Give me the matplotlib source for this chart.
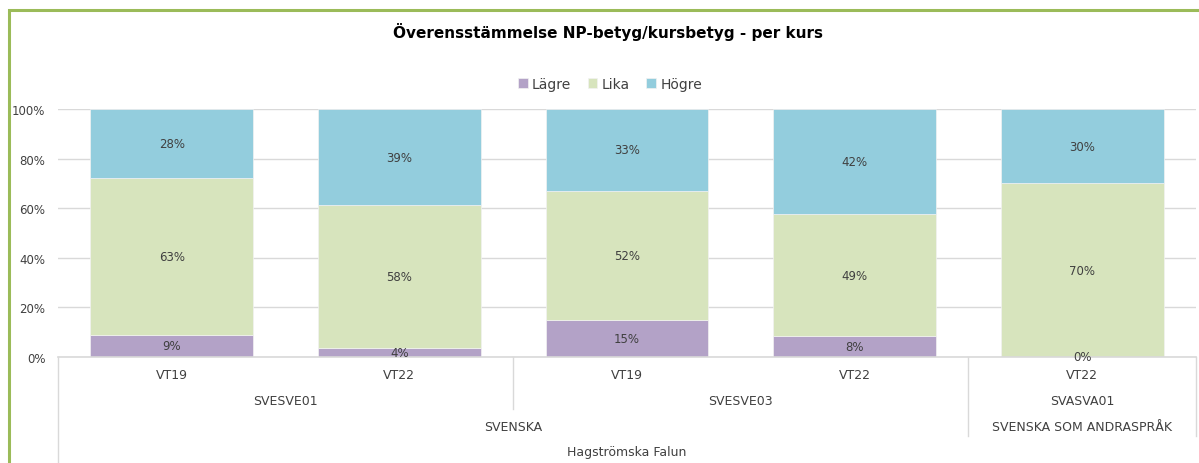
import matplotlib
matplotlib.use("Agg")
import matplotlib.pyplot as plt
from matplotlib.patches import Rectangle
from matplotlib.ticker import FuncFormatter

# data (labels are the rounded values)
terms = ["VT19", "VT22", "VT19", "VT22", "VT22"]
courses = ["SVESVE01", "SVESVE03", "SVASVA01"]
course_span = [(0, 1), (2, 3), (4, 4)]
subjects = ["SVENSKA", "SVENSKA SOM ANDRASPRÅK"]
subject_span = [(0, 3), (4, 4)]
school = "Hagströmska Falun"

lagre = [9.0, 3.6, 15.0, 8.4, 0.0]
lika = [63.0, 57.6, 52.0, 49.2, 70.0]
hogre = [28.0, 38.8, 33.0, 42.4, 30.0]

series = [("Lägre", lagre, "#B3A2C7"),
          ("Lika", lika, "#D7E4BD"),
          ("Högre", hogre, "#93CDDD")]

TXT = "#404040"
GRID = "#D9D9D9"

fig = plt.figure(figsize=(11.99, 4.64), dpi=100)
ax = fig.add_axes([58 / 1199, 106 / 464, 1138 / 1199, 248 / 464])

x = list(range(len(terms)))
bottom = [0.0] * len(terms)
for name, vals, col in series:
    ax.bar(x, vals, 0.715, bottom=bottom, color=col, label=name, zorder=2,
           edgecolor="#F2F2F2", linewidth=0.5)
    for xi, v, b in zip(x, vals, bottom):
        ax.text(xi, b + v / 2, f"{round(v):.0f}%", ha="center", va="center",
                fontsize=8.5, color=TXT, zorder=3)
    bottom = [b + v for b, v in zip(bottom, vals)]

ax.set_xlim(-0.5, len(terms) - 0.5)
ax.set_ylim(0, 100)
ax.set_yticks(range(0, 101, 20))
ax.yaxis.set_major_formatter(FuncFormatter(lambda v, _: f"{v:.0f}%"))
ax.tick_params(axis="y", length=0, labelsize=8.5, labelcolor=TXT, pad=9)
ax.set_xticks([])
ax.grid(axis="y", color=GRID, linewidth=1, zorder=0)
for s in ax.spines.values():
    s.set_visible(False)

# multi-level category axis
tr = ax.get_xaxis_transform()
H = 248.0


def vline(xv, px):
    ax.plot([xv, xv], [0, -px / H], transform=tr, color=GRID, lw=1, clip_on=False)


ax.plot([-0.5, len(terms) - 0.5], [0, 0], transform=tr, color=GRID, lw=1.2, clip_on=False)
vline(-0.5, 110)
vline(1.5, 52)
vline(3.5, 79)
vline(4.5, 79)


def cat_label(xv, px, s):
    ax.text(xv, -px / H, s, transform=tr, ha="center", va="center",
            fontsize=9, color=TXT, clip_on=False)


for xi, t in zip(x, terms):
    cat_label(xi, 18, t)
for name, (a, b) in zip(courses, course_span):
    cat_label((a + b) / 2, 44, name)
for name, (a, b) in zip(subjects, subject_span):
    cat_label((a + b) / 2, 70, name)
cat_label((len(terms) - 1) / 2, 95, school)

fig.text(608 / 1199, 1 - 32 / 464, "Överensstämmelse NP-betyg/kursbetyg - per kurs",
         ha="center", va="center", fontsize=11, fontweight="bold", color="black")

fig.legend(loc="center", bbox_to_anchor=(610 / 1199, 1 - 85 / 464), ncol=3,
           frameon=False, fontsize=10, handlelength=0.7, handleheight=0.7,
           handletextpad=0.3, columnspacing=1.2, labelcolor=TXT)

# green frame, cut off at right and bottom like the screenshot
fig.patches.append(Rectangle((9 / 1199, -0.1), 1.2, 1 - 11 / 464 + 0.1,
                             transform=fig.transFigure, fill=False,
                             edgecolor="#9BBB59", lw=2.2))

fig.savefig("out.png", dpi=100)
